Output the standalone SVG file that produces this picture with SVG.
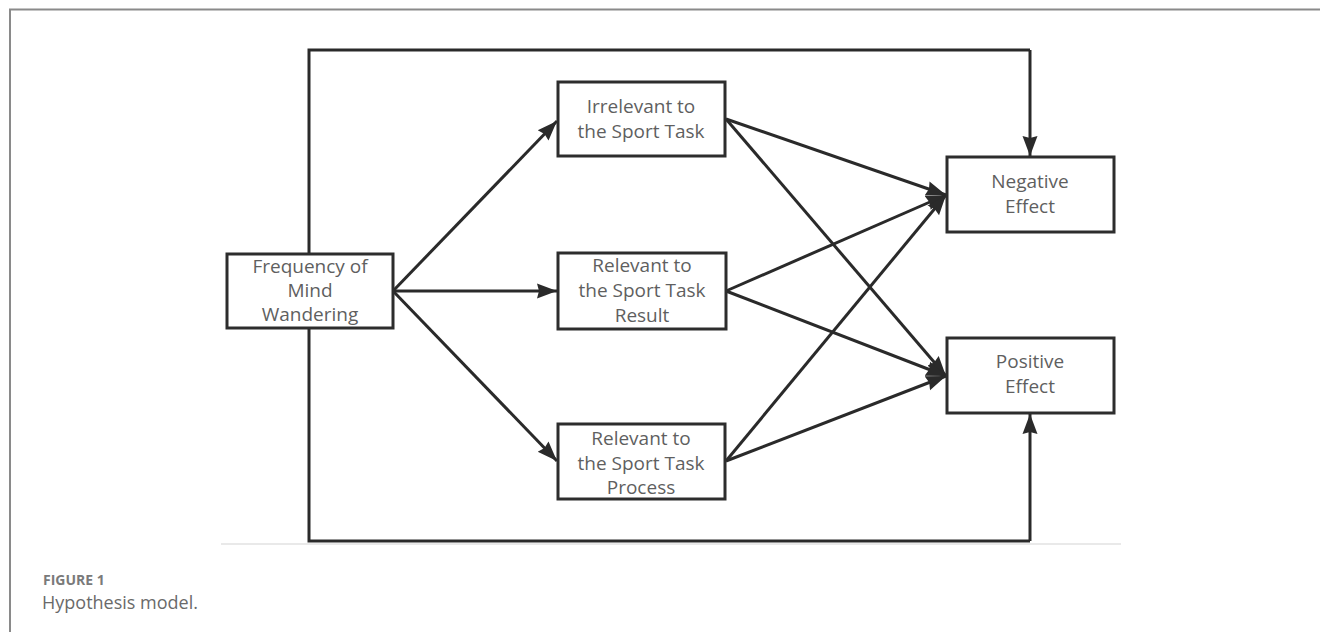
<svg xmlns="http://www.w3.org/2000/svg" width="1320" height="632" viewBox="0 0 1320 632">
<defs>
<marker id="ah" markerUnits="userSpaceOnUse" markerWidth="22" markerHeight="18" refX="20" refY="8" orient="auto" viewBox="0 0 22 16">
<path d="M0,0.5 L20,8 L0,15.5 L2,8 Z" fill="#2a2a2a"/>
</marker>
<style>
.frame{fill:none;stroke:#8a8a8a;stroke-width:2}
.box{fill:#fff;stroke:#2d2d2d;stroke-width:3}
.lbl{font-family:"Open Sans","Noto Sans",sans-serif;font-size:19px;fill:#5f5f5f;text-anchor:middle}
.ln{fill:none;stroke:#2a2a2a;stroke-width:3}
.arr{fill:none;stroke:#2a2a2a;stroke-width:3;marker-end:url(#ah)}
.cap1{font-family:"Open Sans","Noto Sans",sans-serif;font-size:14px;font-weight:bold;fill:#7a7a7a}
.cap2{font-family:"Open Sans","Noto Sans",sans-serif;font-size:18px;fill:#6a6a6a}
</style>
</defs>
<rect width="1320" height="632" fill="#fff"/>
<path class="frame" d="M10,632 L10,9.5 L1320,9.5"/>
<line x1="221" y1="544" x2="1121" y2="544" stroke="#e2e2e2" stroke-width="1.5"/>
<g id="connectors">
<polyline class="ln" points="309,254 309,50 1030,50"/>
<line class="arr" x1="1030" y1="50" x2="1030" y2="156"/>
<polyline class="ln" points="309,328 309,541 1030,541"/>
<line class="arr" x1="1030" y1="541" x2="1030" y2="414"/>
<line class="arr" x1="393" y1="291" x2="557" y2="121"/>
<line class="arr" x1="393" y1="291" x2="557" y2="291"/>
<line class="arr" x1="393" y1="291" x2="557" y2="461"/>
<line class="arr" x1="726" y1="119" x2="946" y2="195"/>
<line class="arr" x1="726" y1="291" x2="946" y2="195"/>
<line class="arr" x1="726" y1="461" x2="946" y2="195"/>
<line class="arr" x1="726" y1="119" x2="946" y2="376"/>
<line class="arr" x1="726" y1="291" x2="946" y2="376"/>
<line class="arr" x1="726" y1="461" x2="946" y2="376"/>
</g>
<g id="freq">
<rect class="box" x="227" y="254" width="166" height="74"/>
<text class="lbl" x="310" y="273">Frequency of</text>
<text class="lbl" x="310" y="297">Mind</text>
<text class="lbl" x="310" y="321">Wandering</text>
</g>
<g id="irrelevant">
<rect class="box" x="558" y="82" width="167" height="74"/>
<text class="lbl" x="641" y="113">Irrelevant to</text>
<text class="lbl" x="641" y="138">the Sport Task</text>
</g>
<g id="result">
<rect class="box" x="558" y="253" width="168" height="76"/>
<text class="lbl" x="642" y="272">Relevant to</text>
<text class="lbl" x="642" y="297">the Sport Task</text>
<text class="lbl" x="642" y="322">Result</text>
</g>
<g id="process">
<rect class="box" x="558" y="424" width="167" height="75"/>
<text class="lbl" x="641" y="445">Relevant to</text>
<text class="lbl" x="641" y="470">the Sport Task</text>
<text class="lbl" x="641" y="494">Process</text>
</g>
<g id="negative">
<rect class="box" x="947" y="157" width="167" height="75"/>
<text class="lbl" x="1030" y="188">Negative</text>
<text class="lbl" x="1030" y="213">Effect</text>
</g>
<g id="positive">
<rect class="box" x="947" y="338" width="167" height="75"/>
<text class="lbl" x="1030" y="368">Positive</text>
<text class="lbl" x="1030" y="393">Effect</text>
</g>
<text class="cap1" x="43" y="585">FIGURE 1</text>
<text class="cap2" x="42" y="609">Hypothesis model.</text>
</svg>
